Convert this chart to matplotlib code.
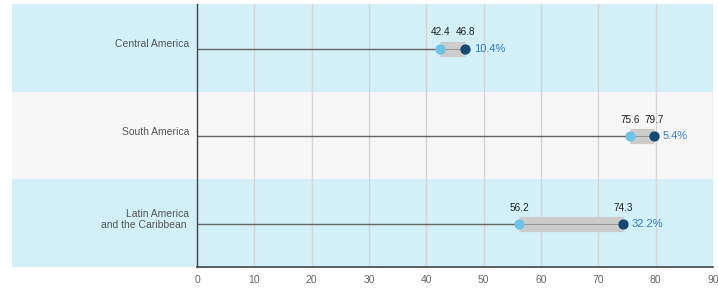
import numpy as np
import matplotlib.pyplot as plt

plt.rcParams['font.family'] = ['Liberation Sans', 'DejaVu Sans']

regions = ["Central America", "South America", "Latin America\nand the Caribbean "]
start_vals = [42.4, 75.6, 56.2]
end_vals = [46.8, 79.7, 74.3]
pct_labels = ["10.4%", "5.4%", "32.2%"]
band_colors = ["#d3f0f8", "#f7f7f7", "#d3f0f8"]
x_ticks = [0, 10, 20, 30, 40, 50, 60, 70, 80, 90]

fig = plt.figure(figsize=(7.18, 2.92), dpi=100)
ax = fig.add_axes([197 / 718, 1 - 267 / 292, 516 / 718, 263 / 292])

n = len(regions)
ypos = np.arange(n)[::-1]  # first region on top

for y, col in zip(ypos, band_colors):
    ax.axhspan(y - 0.5, y + 0.5, xmin=-0.3585, xmax=1.0, color=col,
               zorder=0, clip_on=False, lw=0)

for y, lab in zip(ypos, regions):
    ax.text(-1.4, y + 0.04, lab, ha='right', va='center', fontsize=7.5,
            color='#555555', linespacing=1.05)

for y, s, e, p in zip(ypos, start_vals, end_vals, pct_labels):
    yl = y - 0.01
    ax.plot([0, s], [yl, yl], color='#666666', lw=1.0, zorder=2)
    ax.plot([s, e], [yl, yl], color='#cccccc', lw=11, solid_capstyle='butt', zorder=2)
    ax.plot([s, e], [yl, yl], color='#999999', lw=0.8, zorder=2)
    ax.scatter([s], [yl], s=55, color='#70c3e3', zorder=4, lw=0)
    ax.scatter([e], [yl], s=55, color='#164a73', zorder=4, lw=0)
    ax.text(s, yl + 0.13, f"{s}", ha='center', va='bottom', fontsize=7.2, color='#222222')
    ax.text(e, yl + 0.13, f"{e}", ha='center', va='bottom', fontsize=7.2, color='#222222')
    ax.text(e + 1.5, yl, p, ha='left', va='center', fontsize=8, color='#2f7bc4')

ax.set_xlim(0, 90)
ax.set_ylim(-0.5, n - 0.5)
ax.set_xticks(x_ticks)
ax.set_yticks([])
ax.grid(axis='x', color='#d5d5d5', lw=1, zorder=1)
ax.set_axisbelow(True)
ax.tick_params(axis='x', length=0, labelsize=7.5, labelcolor='#666666', pad=6)
ax.set_facecolor('none')
for side in ['top', 'right']:
    ax.spines[side].set_visible(False)
ax.spines['left'].set_color('#444444')
ax.spines['bottom'].set_color('#444444')
ax.spines['left'].set_linewidth(1)
ax.spines['bottom'].set_linewidth(1.2)

fig.savefig("out.png", dpi=100)
